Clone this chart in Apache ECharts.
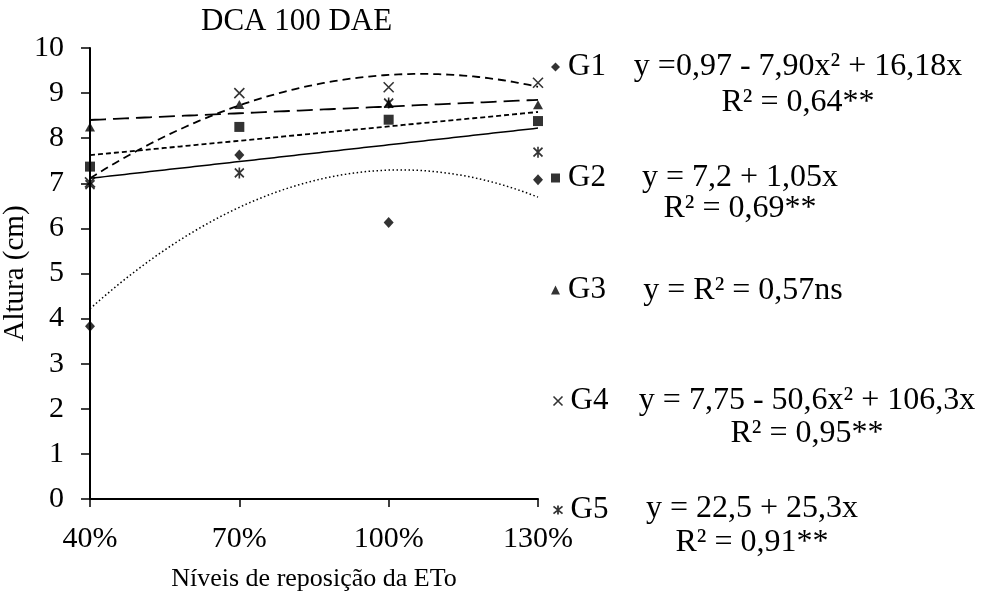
<!DOCTYPE html>
<html><head><meta charset="utf-8">
<script src="https://cdn.jsdelivr.net/npm/echarts@6/dist/echarts.min.js"></script>
<style>html,body{margin:0;padding:0;background:#fff}#c{width:981px;height:597px}</style>
</head><body><div id="c"></div>
<script>
// ---- data ----
const levels = [40, 70, 100, 130];
const tickLabels = ['40%', '70%', '100%', '130%'];
const groups = ['G1', 'G2', 'G3', 'G4', 'G5'];
const g1 = [3.83, 7.63, 6.13, 7.08];
const g2 = [7.37, 8.25, 8.41, 8.38];
const g3 = [8.25, 8.75, 8.77, 8.74];
const g4 = [7.02, 9.00, 9.13, 9.23];
const g5 = [6.97, 7.23, 8.78, 7.69];
const trendDegree = [2, 1, 1, 2, 1];
const eqLine1 = ['y =0,97 - 7,90x² + 16,18x', 'y = 7,2 + 1,05x', 'y = R² = 0,57ns', 'y = 7,75 - 50,6x² + 106,3x', 'y = 22,5 + 25,3x'];
const eqLine2 = ['R² = 0,64**', 'R² = 0,69**', '', 'R² = 0,95**', 'R² = 0,91**'];
const titleText = 'DCA 100 DAE';
const xName = 'Níveis de reposição da ETo';
const yName = 'Altura (cm)';

// ---- helpers ----
const values = [g1, g2, g3, g4, g5];
function polyfit(xs, ys, deg) {
  const n = deg + 1;
  const A = [], b = [];
  for (let i = 0; i < n; i++) {
    A.push([]);
    for (let j = 0; j < n; j++) {
      let s = 0; xs.forEach(x => s += Math.pow(x / 100, i + j)); A[i].push(s);
    }
    let t = 0; xs.forEach((x, k) => t += ys[k] * Math.pow(x / 100, i)); b.push(t);
  }
  for (let i = 0; i < n; i++) {
    for (let k = i + 1; k < n; k++) {
      const f = A[k][i] / A[i][i];
      for (let j = i; j < n; j++) A[k][j] -= f * A[i][j];
      b[k] -= f * b[i];
    }
  }
  const c = new Array(n).fill(0);
  for (let i = n - 1; i >= 0; i--) {
    let s = b[i];
    for (let j = i + 1; j < n; j++) s -= A[i][j] * c[j];
    c[i] = s / A[i][i];
  }
  return x => c.reduce((acc, ci, i) => acc + ci * Math.pow(x / 100, i), 0);
}

const FONT = '"Liberation Serif", "Times New Roman", serif';
const symbols = [
  { symbol: 'diamond', size: [10, 11], style: { color: '#000' } },
  { symbol: 'rect', size: [10, 10], style: { color: '#000' } },
  { symbol: 'triangle', size: [10, 9], style: { color: '#000' } },
  { symbol: 'path://M0,0L10,10M10,0L0,10', size: [10, 10], style: { color: 'none', borderColor: '#000', borderWidth: 1.6 } },
  { symbol: 'path://M0,1L10,9M10,1L0,9M5,0L5,10', size: [9, 11], style: { color: 'none', borderColor: '#000', borderWidth: 1.8 } }
];
const trendStyles = [
  { type: [1.5, 2.5], width: 1.5 },
  { type: [5, 3], width: 1.8 },
  { type: [16, 7], width: 1.8 },
  { type: [8, 5], width: 1.8 },
  { type: 'solid', width: 1.5 }
];

const series = [];
groups.forEach((g, i) => {
  const f = polyfit(levels, values[i], trendDegree[i]);
  const pts = [];
  for (let x = levels[0]; x <= levels[levels.length - 1]; x += 1) pts.push([x, f(x)]);
  series.push({
    name: g + ' trend', type: 'line', data: pts, showSymbol: false, symbol: 'none',
    lineStyle: { color: '#000', width: trendStyles[i].width, type: trendStyles[i].type },
    z: 2, silent: true
  });
});
groups.forEach((g, i) => {
  series.push({
    name: g, type: 'scatter', data: levels.map((x, k) => [x, values[i][k]]),
    symbol: symbols[i].symbol, symbolSize: symbols[i].size,
    itemStyle: symbols[i].style, z: 5
  });
});

const legendCenters = [67, 178, 290, 401, 510];
const legends = groups.map((g, i) => ({
  data: [{ name: g, icon: symbols[i].symbol, itemStyle: symbols[i].style }],
  left: 551, top: legendCenters[i] - 16, padding: 0,
  itemWidth: 9, itemHeight: 9, selectedMode: false,
  textStyle: { fontFamily: FONT, fontSize: 31, color: '#000', lineHeight: 32, padding: [0, 0, 0, 3] }
}));

const eqCenters = [798, 740, 743, 807, 752];
const eqY1 = [67, 178, 291, 401, 509];
const eqY2 = [103, 209, null, 434, 543];
const graphics = [];
groups.forEach((g, i) => {
  graphics.push({ type: 'text', x: eqCenters[i], y: eqY1[i],
    style: { text: eqLine1[i], font: '32px ' + FONT, fill: '#000', textAlign: 'center', textVerticalAlign: 'middle' } });
  if (eqLine2[i]) graphics.push({ type: 'text', x: eqCenters[i], y: eqY2[i],
    style: { text: eqLine2[i], font: '32px ' + FONT, fill: '#000', textAlign: 'center', textVerticalAlign: 'middle' } });
});

const chart = echarts.init(document.getElementById('c'), null, { renderer: 'canvas' });
chart.setOption({
  animation: false,
  backgroundColor: '#fff',
  title: { text: titleText, left: 201, top: 6, padding: 0,
    textStyle: { fontFamily: FONT, fontSize: 31, fontWeight: 'normal', color: '#000' } },
  legend: legends,
  grid: { left: 90, right: 443, top: 48, bottom: 97, containLabel: false },
  xAxis: {
    type: 'value', min: 40, max: 130, interval: 30,
    name: xName, nameLocation: 'middle', nameGap: 67,
    nameTextStyle: { fontFamily: FONT, fontSize: 26, color: '#000' },
    axisLine: { lineStyle: { color: '#000', width: 2 } },
    axisTick: { show: true, length: 8, lineStyle: { color: '#000', width: 1.5 } },
    splitLine: { show: false },
    axisLabel: { fontFamily: FONT, fontSize: 30, color: '#000', margin: 25, lineHeight: 30,
      formatter: v => tickLabels[levels.indexOf(v)] || '' }
  },
  yAxis: {
    type: 'value', min: 0, max: 10, interval: 1,
    name: yName, nameLocation: 'middle', nameGap: 53,
    nameTextStyle: { fontFamily: FONT, fontSize: 29, color: '#000' },
    axisLine: { show: true, lineStyle: { color: '#000', width: 2 } },
    axisTick: { show: true, length: 9, lineStyle: { color: '#000', width: 1.5 } },
    splitLine: { show: false },
    axisLabel: { fontFamily: FONT, fontSize: 30, color: '#000', margin: 26 }
  },
  graphic: graphics,
  series: series
});
</script></body></html>
